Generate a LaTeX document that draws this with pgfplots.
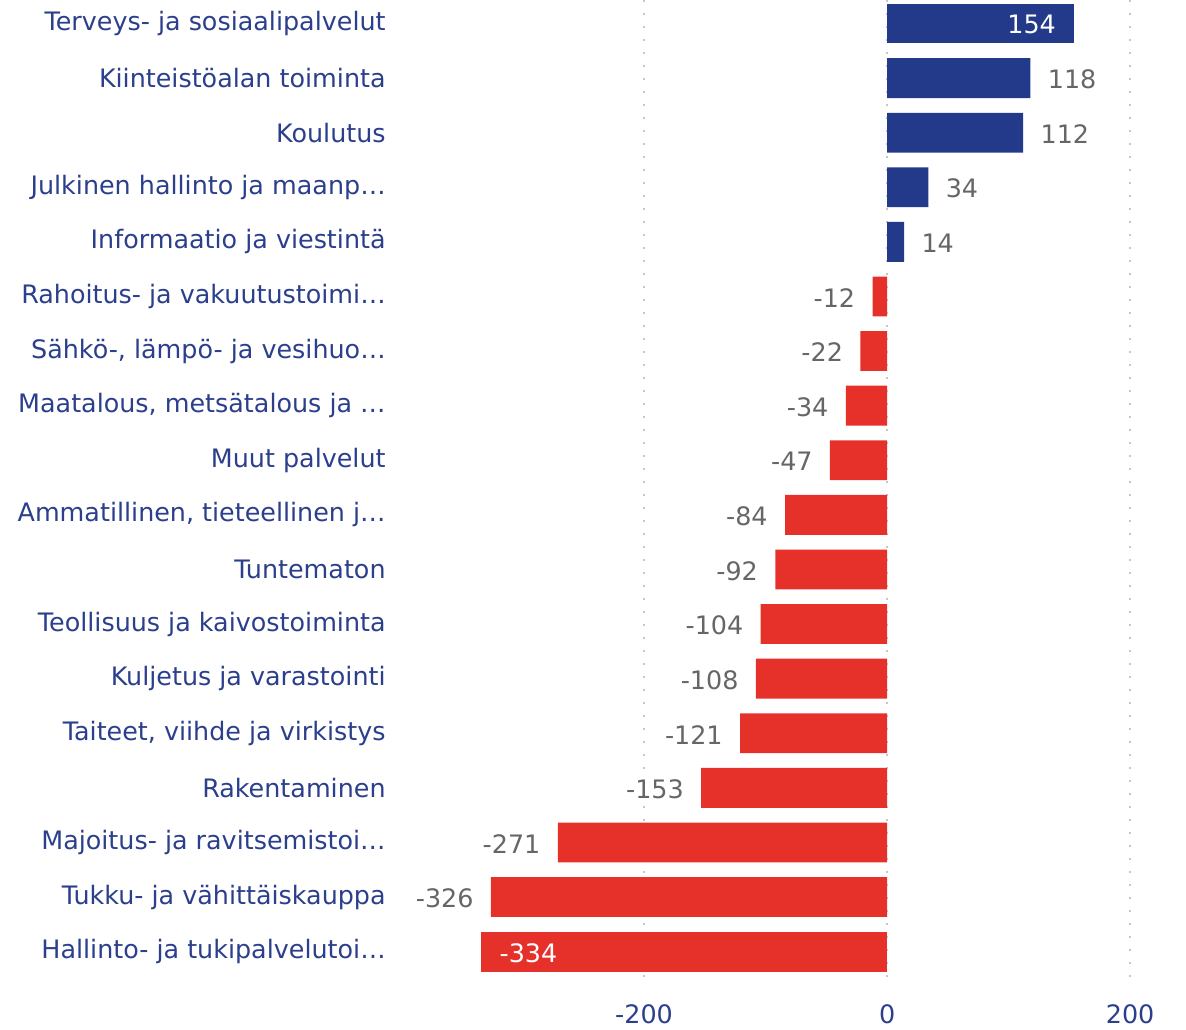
\documentclass[border=0pt]{standalone}
\usepackage{fontspec}
\setmainfont{DejaVu Sans}
\usepackage{pgfplots}
\pgfplotsset{compat=1.18}

\definecolor{barblue}{HTML}{233A8A}
\definecolor{barred}{HTML}{E6312A}
\definecolor{labnavy}{HTML}{2B3F8C}
\definecolor{valgray}{HTML}{666666}

\begin{document}
\fontsize{12.7}{15}\selectfont
\begin{tikzpicture}
\useasboundingbox (0,0) rectangle (593pt,514.5pt);
\begin{axis}[
    at={(200.5pt,24.5pt)}, anchor=south west,
    scale only axis,
    width=391.9pt, height=490pt,
    xbar, bar shift=0pt, bar width=0.73,
    y dir=reverse,
    xmin=-400, xmax=245,
    ymin=-0.43, ymax=17.52,
    axis line style={draw=none},
    major tick length=0pt,
    xtick={-200,0,200},
    xticklabels={-200,0,200},
    ytick={0,...,17},
    yticklabels={
        Terveys- ja sosiaalipalvelut,
        Kiinteistöalan toiminta,
        Koulutus,
        Julkinen hallinto ja maanp…,
        Informaatio ja viestintä,
        Rahoitus- ja vakuutustoimi…,
        {Sähkö-, lämpö- ja vesihuo…},
        {Maatalous, metsätalous ja …},
        Muut palvelut,
        {Ammatillinen, tieteellinen j…},
        Tuntematon,
        Teollisuus ja kaivostoiminta,
        Kuljetus ja varastointi,
        {Taiteet, viihde ja virkistys},
        Rakentaminen,
        Majoitus- ja ravitsemistoi…,
        Tukku- ja vähittäiskauppa,
        Hallinto- ja tukipalvelutoi…},
    yticklabel style={font=\fontsize{12.7}{15}\selectfont, text=labnavy, anchor=east, inner sep=0pt, xshift=-7.5pt},
    xticklabel style={font=\fontsize{12.7}{15}\selectfont, text=labnavy, anchor=north, inner sep=0pt, yshift=-12pt},
    /pgf/number format/assume math mode=true,
    xmajorgrids=true,
    ymajorgrids=false,
    major grid style={draw=gray!45, line width=1pt, dash pattern=on 1pt off 5.5pt},
    point meta=explicit symbolic,
    nodes near coords,
    every node near coord/.append style={font=\fontsize{12.7}{15}\selectfont, inner sep=0pt, yshift=-0.7pt},
]
% positive, label outside
\addplot[fill=barblue, draw=none,
    every node near coord/.append style={text=valgray, anchor=west, xshift=8.5pt}]
    coordinates {(118,1) [118] (112,2) [112] (34,3) [34] (14,4) [14]};
% positive, label inside
\addplot[fill=barblue, draw=none,
    every node near coord/.append style={text=white, anchor=east, xshift=-9pt}]
    coordinates {(154,0) [154]};
% negative, label outside
\addplot[fill=barred, draw=none,
    every node near coord/.append style={text=valgray, anchor=east, xshift=-8.5pt}]
    coordinates {
    (-12,5) [-12] (-22,6) [-22] (-34,7) [-34] (-47,8) [-47]
    (-84,9) [-84] (-92,10) [-92] (-104,11) [-104] (-108,12) [-108]
    (-121,13) [-121] (-153,14) [-153] (-271,15) [-271] (-326,16) [-326]};
% negative, label inside
\addplot[fill=barred, draw=none,
    every node near coord/.append style={text=white, anchor=west, xshift=9pt}]
    coordinates {(-334,17) [-334]};
\end{axis}
\end{tikzpicture}
\end{document}
